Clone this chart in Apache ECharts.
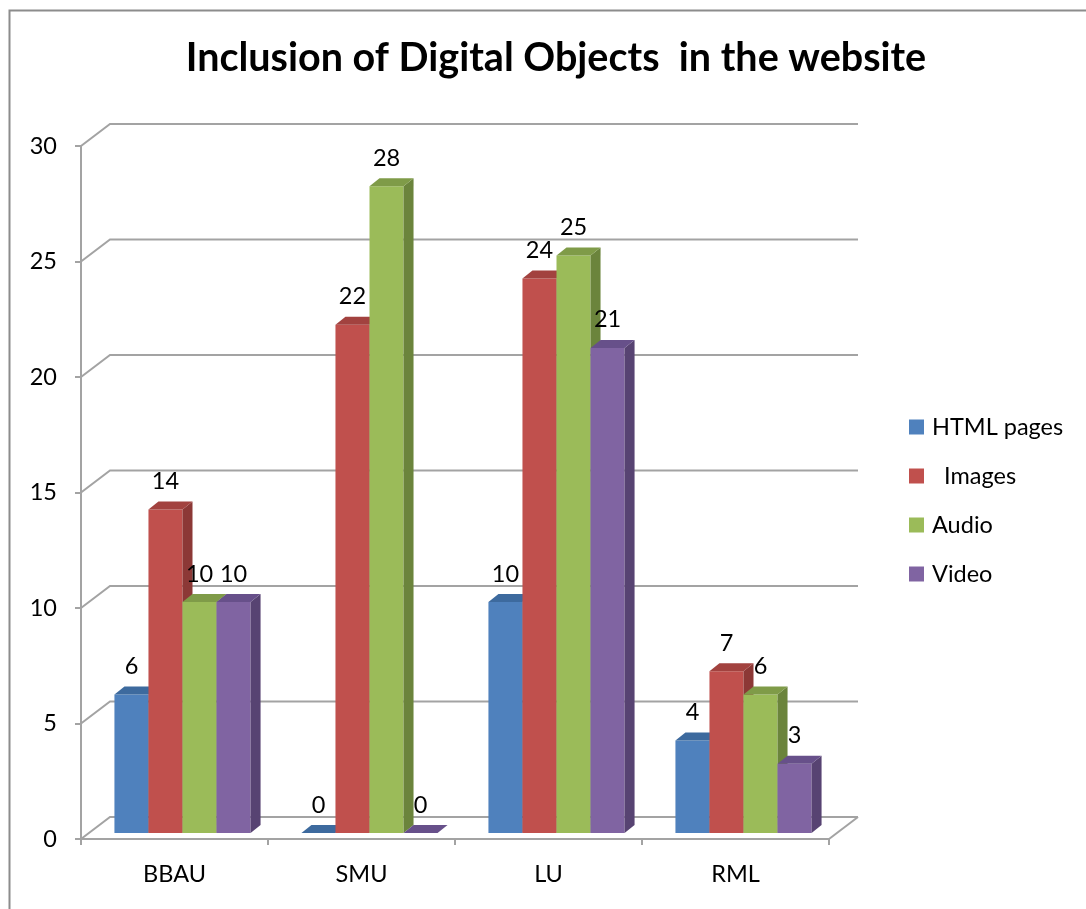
<!DOCTYPE html>
<html>
<head>
<meta charset="utf-8">
<script src="https://cdn.jsdelivr.net/npm/echarts@6/dist/echarts.min.js"></script>
<style>
  html, body { margin: 0; padding: 0; background: #ffffff; }
  #chart { width: 1086px; height: 909px; }
</style>
</head>
<body>
<div id="chart"></div>
<script>
// Institutions on the category axis
const categories = ['BBAU', 'SMU', 'LU', 'RML'];

// One array per kind of digital object
const seriesNames = ['HTML pages', '  Images', 'Audio', 'Video'];
const htmlPages = [6, 0, 10, 4];
const images = [14, 22, 24, 7];
const audio = [10, 28, 25, 6];
const video = [10, 0, 21, 3];

// Value axis ticks
const yMin = 0;
const yMax = 30;
const yStep = 5;
const gridValues = [0, 5, 10, 15, 20, 25, 30];

const seriesValues = [htmlPages, images, audio, video];
const frontColors = ['#4f81bd', '#c0504d', '#9bbb59', '#8064a2'];
const topColors = ['#3d6a9e', '#a2423f', '#7f9b48', '#67508a'];
const sideColors = ['#385d8a', '#8c3836', '#6b843c', '#574372'];

const FONT = 'Lato, "Open Sans", sans-serif';
const LABEL_SIZE = 23.5;
const GRID_COLOR = '#a3a3a3';

// Depth of the back wall relative to the front plane
const WALL_DX = 29, WALL_DY = -22;
// Bars sit a little behind the front plane
const BAR_OX = 8, BAR_OY = -6;
// Depth of a single bar
const BAR_DX = 10, BAR_DY = -8;
const BAR_RATIO = 0.182;

const chart = echarts.init(document.getElementById('chart'), null, { renderer: 'canvas' });

function renderWall(params, api) {
  const cs = params.coordSys;
  const v = api.value(1);
  const y = api.coord([0, v])[1];
  const x0 = cs.x, x1 = cs.x + cs.width;
  const children = [{
    type: 'polyline',
    shape: { points: [[x0, y], [x0 + WALL_DX, y + WALL_DY], [x1 + WALL_DX, y + WALL_DY]] },
    style: { stroke: GRID_COLOR, lineWidth: 2, fill: null },
    silent: true
  }];
  if (v === yMin) {
    children.push({
      type: 'line',
      shape: { x1: x1, y1: y, x2: x1 + WALL_DX, y2: y + WALL_DY },
      style: { stroke: GRID_COLOR, lineWidth: 2 },
      silent: true
    });
  }
  return { type: 'group', children: children };
}

function makeBarRenderer(si) {
  return function (params, api) {
    const idx = api.value(0);
    const val = api.value(1);
    const band = api.size([1, 0])[0];
    const bw = band * BAR_RATIO;
    const base = api.coord([idx, 0]);
    const top = api.coord([idx, val]);
    const x = base[0] - 2 * bw + si * bw + BAR_OX;
    const yB = base[1] + BAR_OY;
    const yT = top[1] + BAR_OY;
    const children = [];
    if (yB - yT > 0) {
      children.push({
        type: 'rect',
        shape: { x: x, y: yT, width: bw, height: yB - yT },
        style: { fill: frontColors[si] }
      });
      children.push({
        type: 'polygon',
        shape: { points: [[x + bw, yT], [x + bw + BAR_DX, yT + BAR_DY], [x + bw + BAR_DX, yB + BAR_DY], [x + bw, yB]] },
        style: { fill: sideColors[si] }
      });
    }
    children.push({
      type: 'polygon',
      shape: { points: [[x, yT], [x + BAR_DX, yT + BAR_DY], [x + bw + BAR_DX, yT + BAR_DY], [x + bw, yT]] },
      style: { fill: topColors[si] }
    });
    children.push({
      type: 'text',
      z2: 100,
      style: {
        text: String(val),
        x: x + bw / 2,
        y: yT - 28,
        align: 'center',
        verticalAlign: 'middle',
        fill: '#000',
        font: LABEL_SIZE + 'px ' + FONT
      }
    });
    return { type: 'group', children: children };
  };
}

const series = [{
  type: 'custom',
  name: 'wall',
  silent: true,
  z: 1,
  renderItem: renderWall,
  data: gridValues.map(v => [0, v]),
  tooltip: { show: false }
}];

seriesNames.forEach((name, si) => {
  series.push({
    type: 'custom',
    name: name,
    z: 2,
    itemStyle: { color: frontColors[si] },
    renderItem: makeBarRenderer(si),
    data: seriesValues[si].map((v, i) => [i, v])
  });
});

chart.setOption({
  animation: false,
  backgroundColor: '#ffffff',
  textStyle: { fontFamily: FONT },
  title: {
    text: 'Inclusion of Digital Objects  in the website',
    left: 551,
    textAlign: 'center',
    top: 33,
    textStyle: { fontFamily: FONT, fontSize: 39.5, fontWeight: 'bold', color: '#000' }
  },
  legend: {
    orient: 'vertical',
    left: 909,
    top: 415,
    padding: 0,
    itemWidth: 15,
    itemHeight: 15,
    itemGap: 25,
    icon: 'rect',
    data: seriesNames,
    textStyle: { fontFamily: FONT, fontSize: LABEL_SIZE, color: '#000', lineHeight: 23, padding: [0, 0, 0, 3] }
  },
  graphic: [{
    type: 'rect',
    left: 7,
    top: 8,
    shape: { width: 1200, height: 1000 },
    style: { fill: null, stroke: '#8c8c8c', lineWidth: 2 },
    silent: true,
    z: -1
  }],
  grid: { left: 81, right: 257, top: 146, bottom: 70, containLabel: false },
  xAxis: {
    type: 'category',
    data: categories,
    axisLine: { show: true, lineStyle: { color: GRID_COLOR, width: 2 } },
    axisTick: { show: true, length: 6, lineStyle: { color: GRID_COLOR, width: 2 } },
    axisLabel: { fontFamily: FONT, fontSize: LABEL_SIZE, color: '#000', margin: 23 },
    splitLine: { show: false }
  },
  yAxis: {
    type: 'value',
    min: yMin,
    max: yMax,
    interval: yStep,
    axisLine: { show: true, lineStyle: { color: GRID_COLOR, width: 2 } },
    axisTick: { show: true, length: 6, lineStyle: { color: GRID_COLOR, width: 2 } },
    axisLabel: { fontFamily: FONT, fontSize: LABEL_SIZE, color: '#000', margin: 24 },
    splitLine: { show: false }
  },
  series: series
});
</script>
</body>
</html>
